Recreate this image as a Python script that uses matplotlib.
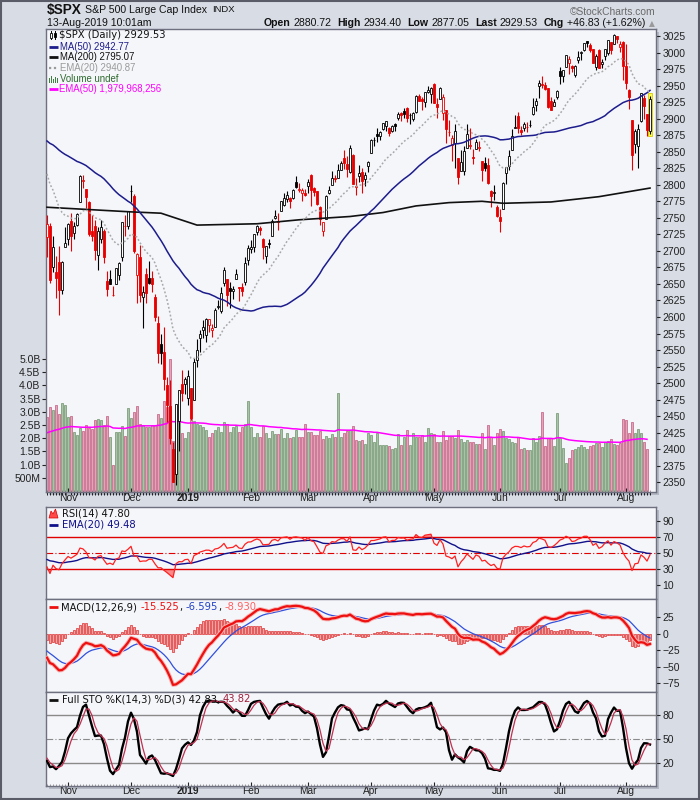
import numpy as np
import pandas as pd
import matplotlib
matplotlib.use("Agg")
import matplotlib.pyplot as plt
from matplotlib.lines import Line2D
from matplotlib.patches import Rectangle, Polygon

plt.rcParams['font.family'] = ['Liberation Sans', 'DejaVu Sans']

# ---------------- warm-up history (Jul 2 - Oct 22, 2018) ----------------
warm_close = [2726.71, 2713.22, 2736.61, 2759.82, 2784.17, 2793.84, 2774.02, 2798.29, 2801.31, 2798.43,
              2809.55, 2815.62, 2804.49, 2801.83, 2806.98, 2820.40, 2846.07, 2837.44, 2818.82, 2802.60,
              2816.29,
              2813.36, 2827.22, 2840.35, 2850.40, 2858.45, 2857.70, 2853.58, 2833.28, 2821.93, 2839.96,
              2818.37, 2840.69, 2850.13, 2857.05, 2862.96, 2861.82, 2856.98, 2874.69, 2896.74, 2897.52,
              2914.04, 2901.13, 2901.52,
              2896.72, 2888.60, 2878.05, 2871.68, 2877.13, 2887.89, 2888.92, 2904.18, 2904.98, 2888.80,
              2904.31, 2907.95, 2930.75, 2929.67, 2919.37, 2915.56, 2905.97, 2914.00, 2913.98,
              2924.59, 2923.43, 2925.51, 2901.61, 2885.57, 2884.43, 2880.34, 2785.68, 2728.37, 2767.13,
              2750.79, 2809.92, 2809.21, 2768.78, 2767.78, 2755.88]
warm_high = [2931.15, 2927.22, 2920.53, 2937.06, 2931.42, 2939.86, 2919.78, 2909.64, 2894.83, 2894.70,
             2874.02, 2795.14, 2775.77, 2775.99, 2813.46, 2816.94, 2806.04, 2797.77, 2778.94]
warm_low = [2903.28, 2909.27, 2907.50, 2917.91, 2919.37, 2921.36, 2883.92, 2869.29, 2862.99, 2874.27,
            2784.86, 2710.51, 2729.44, 2749.03, 2766.91, 2781.81, 2755.18, 2760.27, 2749.22]

# ---------------- displayed daily data (Oct 23, 2018 - Aug 13, 2019) ----------------
opens = [2721.03, 2737.87, 2674.88, 2667.86, 2682.65, 2640.68, 2705.60, 2717.58, 2745.45, 2726.37,
         2738.40, 2774.13, 2806.38, 2794.10, 2773.93, 2730.05, 2737.90, 2693.52, 2718.54, 2730.74,
         2654.60, 2657.74, 2633.36, 2649.97, 2663.75, 2691.45, 2736.97, 2737.76, 2790.50, 2782.43,
         2663.51, 2691.26, 2630.86, 2664.44, 2658.23, 2658.70, 2629.68, 2590.75, 2559.90, 2547.05,
         2496.77, 2465.38, 2400.56, 2363.12, 2442.50, 2498.77, 2498.94, 2476.96, 2491.92, 2474.33,
         2535.61, 2568.11, 2580.00, 2573.51, 2588.11, 2580.31, 2585.10, 2614.75, 2609.28, 2651.27,
         2657.88, 2643.48, 2638.84, 2657.44, 2644.97, 2644.89, 2653.62, 2685.49, 2702.32, 2706.49,
         2728.34, 2735.05, 2717.53, 2692.36, 2712.40, 2722.61, 2750.30, 2743.50, 2760.24, 2769.28,
         2779.05, 2780.67, 2780.67, 2804.35, 2792.36, 2787.50, 2788.11, 2798.22, 2814.37, 2794.41,
         2790.27, 2766.53, 2730.79, 2747.61, 2787.34, 2799.78, 2810.38, 2810.79, 2822.61, 2840.76,
         2831.34, 2819.72, 2844.52, 2796.01, 2812.66, 2819.72, 2809.40, 2828.27, 2848.63, 2868.24,
         2876.09, 2873.99, 2884.16, 2888.46, 2886.58, 2881.37, 2891.92, 2900.86, 2908.32, 2912.26,
         2916.04, 2904.81, 2898.78, 2909.99, 2934.00, 2928.99, 2925.81, 2940.58, 2937.14, 2952.33,
         2922.16, 2929.21, 2908.89, 2913.03, 2879.61, 2859.84, 2863.10, 2840.19, 2820.12, 2820.38,
         2855.80, 2858.60, 2841.94, 2854.02, 2856.06, 2836.70, 2832.41, 2830.03, 2790.25, 2786.94,
         2766.15, 2751.53, 2762.64, 2818.09, 2828.51, 2852.87, 2885.83, 2903.27, 2882.73, 2886.24,
         2886.82, 2889.75, 2906.71, 2920.55, 2949.60, 2952.71, 2951.42, 2945.78, 2926.07, 2919.66,
         2932.94, 2971.41, 2964.66, 2978.08, 2984.25, 2979.77, 2965.52, 2989.30, 2999.62, 3003.36,
         3017.80, 3012.13, 3005.10, 2978.87, 3004.26, 2981.93, 2994.74, 2998.77, 3016.26, 3013.25,
         3024.47, 3007.66, 3016.22, 2980.32, 2943.90, 2898.07, 2861.18, 2858.65, 2896.21, 2930.51,
         2907.07, 2880.72]
highs = [2753.59, 2742.59, 2722.70, 2692.38, 2706.85, 2685.43, 2736.69, 2741.67, 2756.55, 2744.27,
         2756.82, 2815.15, 2814.75, 2794.10, 2775.99, 2754.60, 2746.80, 2735.38, 2746.75, 2733.16,
         2669.44, 2670.73, 2647.55, 2674.35, 2682.53, 2744.00, 2753.75, 2760.88, 2800.18, 2785.93,
         2696.15, 2708.54, 2647.51, 2674.35, 2685.44, 2670.19, 2635.07, 2601.13, 2573.99, 2585.29,
         2509.63, 2504.41, 2410.34, 2467.76, 2489.10, 2520.27, 2509.24, 2519.49, 2493.14, 2538.07,
         2566.16, 2579.82, 2595.32, 2597.82, 2596.27, 2589.32, 2613.08, 2625.76, 2645.06, 2675.47,
         2657.88, 2653.19, 2647.20, 2672.38, 2644.97, 2650.93, 2690.44, 2708.95, 2716.66, 2724.99,
         2738.98, 2738.08, 2719.32, 2708.07, 2718.05, 2748.19, 2761.85, 2757.90, 2775.66, 2787.33,
         2789.88, 2781.58, 2794.20, 2813.49, 2803.12, 2795.76, 2793.73, 2808.02, 2816.88, 2796.44,
         2790.27, 2767.25, 2744.13, 2784.00, 2798.32, 2821.24, 2815.00, 2830.73, 2835.41, 2852.42,
         2843.54, 2860.31, 2846.16, 2809.79, 2829.87, 2825.56, 2819.71, 2836.03, 2869.40, 2872.90,
         2885.25, 2881.28, 2893.24, 2895.95, 2886.88, 2889.71, 2893.42, 2910.54, 2909.60, 2916.06,
         2918.00, 2908.40, 2909.51, 2936.31, 2936.83, 2933.10, 2939.88, 2949.52, 2948.22, 2954.13,
         2931.68, 2947.85, 2937.32, 2913.03, 2897.96, 2875.97, 2891.31, 2840.19, 2852.54, 2858.68,
         2892.15, 2885.48, 2853.86, 2868.88, 2865.47, 2836.70, 2841.36, 2840.51, 2792.03, 2799.00,
         2768.98, 2763.07, 2804.49, 2827.28, 2852.10, 2884.97, 2904.77, 2910.61, 2888.57, 2895.24,
         2894.45, 2897.27, 2930.79, 2931.74, 2958.06, 2964.15, 2954.92, 2946.52, 2932.59, 2929.30,
         2943.98, 2977.93, 2973.21, 2995.84, 2994.03, 2980.76, 2981.90, 3002.98, 3002.33, 3013.92,
         3017.80, 3015.02, 3005.26, 2998.28, 3006.02, 2990.71, 3005.90, 3019.59, 3016.31, 3027.98,
         3025.61, 3017.19, 3017.40, 3013.59, 2945.50, 2898.07, 2884.40, 2892.17, 2938.72, 2935.75,
         2907.58, 2934.40]
lows = [2691.43, 2651.89, 2667.84, 2628.16, 2603.54, 2635.34, 2705.60, 2708.85, 2700.44, 2717.94,
        2737.08, 2774.13, 2794.99, 2764.24, 2722.00, 2714.98, 2685.75, 2670.75, 2712.16, 2681.09,
        2631.52, 2649.82, 2631.09, 2649.97, 2655.89, 2684.38, 2722.94, 2732.76, 2773.38, 2697.18,
        2621.53, 2623.14, 2583.23, 2621.30, 2650.26, 2637.27, 2593.84, 2530.54, 2528.71, 2488.96,
        2441.18, 2408.55, 2351.10, 2346.58, 2397.94, 2472.89, 2482.82, 2467.47, 2443.96, 2474.33,
        2524.56, 2547.56, 2568.89, 2562.02, 2577.40, 2570.41, 2585.10, 2612.68, 2606.36, 2647.58,
        2617.27, 2612.86, 2627.01, 2657.33, 2624.06, 2631.05, 2648.34, 2678.65, 2696.88, 2698.75,
        2724.03, 2724.15, 2687.26, 2681.83, 2703.79, 2722.61, 2748.63, 2731.23, 2760.24, 2767.29,
        2774.06, 2764.55, 2779.11, 2794.99, 2789.47, 2775.13, 2782.51, 2787.38, 2767.66, 2782.97,
        2768.69, 2739.09, 2722.27, 2747.61, 2786.73, 2799.78, 2803.46, 2810.79, 2821.99, 2823.27,
        2812.43, 2817.38, 2800.47, 2785.02, 2803.99, 2787.72, 2798.77, 2819.23, 2848.63, 2858.75,
        2865.17, 2867.14, 2882.99, 2880.78, 2873.33, 2879.13, 2881.99, 2898.37, 2896.48, 2900.71,
        2895.45, 2891.90, 2896.35, 2908.53, 2926.05, 2912.84, 2917.56, 2939.35, 2924.11, 2923.36,
        2900.50, 2929.21, 2898.21, 2862.60, 2873.28, 2836.40, 2825.39, 2801.43, 2820.12, 2815.08,
        2855.80, 2854.23, 2831.29, 2854.02, 2851.11, 2805.49, 2820.19, 2801.58, 2766.06, 2776.74,
        2750.52, 2728.81, 2762.64, 2800.92, 2822.45, 2852.87, 2885.51, 2878.53, 2874.68, 2881.99,
        2879.62, 2887.30, 2905.44, 2911.43, 2931.50, 2946.87, 2944.05, 2916.01, 2912.99, 2918.57,
        2929.05, 2952.22, 2955.92, 2977.96, 2967.97, 2970.09, 2963.44, 2984.62, 2988.80, 3001.87,
        3008.77, 3001.15, 2984.25, 2973.09, 2975.86, 2976.65, 2988.56, 2996.82, 2997.24, 3012.59,
        3014.30, 3000.94, 2958.08, 2945.23, 2914.11, 2822.12, 2847.42, 2825.71, 2894.47, 2900.15,
        2873.14, 2877.05]
closes = [2740.69, 2656.10, 2705.57, 2658.69, 2641.25, 2682.63, 2711.74, 2740.37, 2723.06, 2738.31,
          2755.45, 2813.89, 2806.83, 2781.01, 2726.22, 2722.18, 2701.58, 2730.20, 2736.27, 2690.73,
          2641.89, 2649.93, 2632.56, 2673.45, 2682.17, 2743.79, 2737.80, 2760.17, 2790.37, 2700.06,
          2695.95, 2633.08, 2637.72, 2636.78, 2651.07, 2650.54, 2599.95, 2545.94, 2546.16, 2506.96,
          2467.42, 2416.62, 2351.10, 2467.70, 2488.83, 2485.74, 2506.85, 2510.03, 2447.89, 2531.94,
          2549.69, 2574.41, 2584.96, 2596.64, 2596.26, 2582.61, 2610.30, 2616.10, 2635.96, 2670.71,
          2632.90, 2638.70, 2642.33, 2664.76, 2643.85, 2640.00, 2681.05, 2704.10, 2706.53, 2724.87,
          2737.70, 2731.61, 2706.05, 2707.88, 2709.80, 2744.73, 2753.03, 2745.73, 2775.60, 2779.76,
          2784.70, 2774.88, 2792.67, 2796.11, 2793.90, 2792.38, 2784.49, 2803.69, 2792.81, 2789.65,
          2771.45, 2748.93, 2743.07, 2783.30, 2791.52, 2810.92, 2808.48, 2822.48, 2832.94, 2832.57,
          2824.23, 2854.88, 2800.71, 2798.36, 2818.46, 2805.37, 2815.44, 2834.40, 2867.19, 2867.24,
          2873.40, 2879.39, 2892.74, 2895.77, 2878.20, 2888.21, 2888.32, 2907.41, 2905.58, 2907.06,
          2900.45, 2905.03, 2907.97, 2933.68, 2927.25, 2926.17, 2939.88, 2943.03, 2945.83, 2923.73,
          2917.52, 2945.64, 2932.47, 2884.05, 2879.42, 2870.72, 2881.40, 2811.87, 2834.41, 2850.96,
          2876.32, 2859.53, 2840.23, 2864.36, 2856.27, 2822.24, 2826.06, 2802.39, 2783.02, 2788.86,
          2752.06, 2744.45, 2803.27, 2826.15, 2843.49, 2873.34, 2886.73, 2885.72, 2879.84, 2891.64,
          2886.98, 2889.67, 2917.75, 2926.46, 2954.18, 2950.46, 2945.35, 2917.38, 2913.78, 2924.92,
          2941.76, 2964.33, 2973.01, 2995.82, 2990.41, 2975.95, 2979.63, 2993.07, 2999.91, 3013.77,
          3014.30, 3004.04, 2984.42, 2995.11, 2976.61, 2985.03, 3005.47, 3019.56, 3003.67, 3025.86,
          3020.97, 3013.18, 2980.38, 2953.56, 2932.05, 2844.74, 2881.77, 2883.98, 2938.09, 2918.65,
          2882.70, 2929.53]
volume_b = [2.82, 3.18, 3.06, 3.24, 2.90, 3.32, 3.24, 2.80, 2.84, 2.22,
            2.12, 2.39, 2.26, 2.49, 2.39, 2.34, 2.68, 2.73, 2.68, 2.50,
            2.84, 2.03, 0.97, 2.22, 2.22, 2.46, 2.08, 3.13, 2.77, 2.99,
            3.21, 2.53, 2.49, 2.44, 2.44, 2.49, 2.49, 2.90, 2.75, 3.41,
            3.18, 5.00, 1.90, 2.60, 2.70, 2.20, 2.00, 2.22, 2.75, 2.64,
            2.53, 2.49, 2.44, 2.30, 2.03, 2.18, 2.30, 2.42, 2.22, 2.60,
            2.55, 2.22, 2.42, 2.46, 2.22, 2.42, 2.53, 3.41, 2.42, 2.05,
            2.18, 2.05, 2.45, 2.18, 2.00, 2.26, 2.16, 2.15, 2.35, 2.00,
            2.18, 2.00, 2.06, 2.31, 2.03, 2.03, 2.53, 2.22, 2.22, 2.12,
            2.12, 2.26, 1.97, 2.07, 2.00, 2.15, 2.05, 3.71, 2.05, 2.18,
            2.27, 2.30, 2.45, 1.93, 1.89, 1.93, 1.78, 2.18, 2.12, 1.86,
            2.18, 1.74, 1.74, 1.74, 1.69, 1.58, 1.63, 2.15, 1.73, 2.05,
            2.30, 1.74, 2.18, 2.05, 2.05, 2.12, 1.84, 2.37, 2.18, 2.15,
            1.84, 1.84, 2.26, 1.92, 2.10, 2.10, 2.00, 2.30, 1.96, 1.84,
            1.92, 1.87, 1.87, 1.77, 1.77, 2.18, 1.58, 2.49, 2.06, 1.73,
            2.18, 2.34, 2.26, 2.00, 1.96, 1.84, 1.81, 2.03, 1.58, 1.62,
            1.54, 1.54, 2.00, 1.84, 2.07, 2.98, 1.69, 2.00, 2.00, 1.69,
            2.94, 2.00, 1.62, 1.05, 1.24, 1.54, 1.58, 1.65, 1.73, 1.65,
            1.58, 1.69, 1.73, 1.81, 1.81, 1.65, 1.84, 1.88, 1.96, 1.77,
            1.73, 1.81, 2.73, 2.68, 2.18, 2.60, 2.18, 2.34, 2.18, 1.84,
            1.58, float('nan')]
vol_ema_seed = 2.18          # EMA(50) of volume just before the first bar
ma200_idx = [0, 28, 38, 50, 70, 84, 101, 112, 123, 134, 145, 152, 168, 184, 201]
ma200_val = [2766, 2759, 2757, 2739, 2741, 2747, 2752, 2758, 2768, 2773, 2775, 2772, 2774, 2782, 2795]

holidays = ["2018-11-22", "2018-12-05", "2018-12-25", "2019-01-01", "2019-01-21",
            "2019-02-18", "2019-04-19", "2019-05-27", "2019-07-04"]

price_ticks = list(range(2350, 3026, 25))
vol_ticks = [0.5, 1.0, 1.5, 2.0, 2.5, 3.0, 3.5, 4.0, 4.5, 5.0]
vol_tick_labels = ["500M", "1.0B", "1.5B", "2.0B", "2.5B", "3.0B", "3.5B", "4.0B", "4.5B", "5.0B"]
rsi_ticks = [10, 30, 50, 70, 90]
macd_ticks = [25, 0, -25, -50, -75]
sto_ticks = [20, 50, 80]

# ---------------- indicators ----------------
n = len(closes)
nw = len(warm_close)
x = np.arange(n)
O = np.array(opens); Hh = np.array(highs); Ll = np.array(lows); C = np.array(closes)
allc = np.array(warm_close + closes)


def ema(arr, period):
    a = 2.0 / (period + 1)
    out = np.full(len(arr), np.nan)
    prev = np.nan
    for i, v in enumerate(arr):
        if np.isnan(v):
            out[i] = prev
            continue
        prev = v if np.isnan(prev) else prev + a * (v - prev)
        out[i] = prev
    return out


ma50 = pd.Series(allc).rolling(50).mean().values[nw:]
ema20 = ema(allc, 20)[nw:]
macd_full = ema(allc, 12) - ema(allc, 26)
sig_full = ema(macd_full, 9)
macd = macd_full[nw:]
sig = sig_full[nw:]
hist = macd - sig

d = np.diff(allc)
gain = np.clip(d, 0, None)
loss = np.clip(-d, 0, None)
rsi_full = np.full(len(allc), np.nan)
ag = gain[:14].mean(); al = loss[:14].mean()
rsi_full[14] = 100 - 100 / (1 + ag / al)
for k in range(14, len(d)):
    ag = (ag * 13 + gain[k]) / 14
    al = (al * 13 + loss[k]) / 14
    rsi_full[k + 1] = 100 - 100 / (1 + ag / al)
rsi_ema_full = np.full(len(allc), np.nan)
rsi_ema_full[14:] = ema(rsi_full[14:], 20)
rsi = rsi_full[nw:]
rsi_ema = rsi_ema_full[nw:]

Hs = pd.Series(warm_high + highs)
Ls = pd.Series(warm_low + lows)
Cs = pd.Series(warm_close[-len(warm_high):] + closes)
hh = Hs.rolling(14).max(); ll = Ls.rolling(14).min()
raw = 100 * (Cs - ll) / (hh - ll)
stok = raw.rolling(3).mean()
stod = stok.rolling(3).mean()
stok = stok.values[len(warm_high):]
stod = stod.values[len(warm_high):]

vol = np.array(volume_b, dtype=float)
vema = []
prev = vol_ema_seed
for v in vol:
    if np.isnan(v):
        vema.append(np.nan)
        continue
    prev = prev + 2.0 / 51 * (v - prev)
    vema.append(prev)
vema = np.array(vema)

dates = pd.bdate_range("2018-10-23", "2019-08-13")
dates = dates[~dates.isin(pd.to_datetime(holidays))][:n]
month_idx = [i for i in range(1, n) if dates[i].month != dates[i - 1].month]
month_lab = [("%d" % dates[i].year) if dates[i].month == 1 else dates[i].strftime("%b") for i in month_idx]

# ---------------- figure ----------------
W, H = 700, 800
BG = '#d8dce5'
PANEL = '#f5f6fa'
BORDER = '#6e7080'
RED = '#e80000'

fig = plt.figure(figsize=(7, 8), dpi=100, facecolor=BG)


def fx(px):
    return px / W


def fy(py):
    return 1 - py / H


def rect(x0, y0, x1, y1):
    return [x0 / W, 1 - y1 / H, (x1 - x0) / W, (y1 - y0) / H]


# panel shadows + frame
for (a, b, c, dd_) in [(46, 29, 656, 492), (46, 507, 656, 786)]:
    fig.add_artist(Rectangle((fx(a + 3), fy(dd_ + 3)), (c - a) / W, (dd_ - b) / H,
                             transform=fig.transFigure, facecolor='#b4b8c4', edgecolor='none', zorder=-5))
fig.add_artist(Rectangle((0.001, 0.001), 0.998, 0.998, transform=fig.transFigure,
                         facecolor='none', edgecolor='#5a5c68', lw=1.5, zorder=10))

XL = (-0.33, 203.0)
TICKFS = 7.5

axv = fig.add_axes(rect(46, 29, 656, 492), facecolor=PANEL)
ax = fig.add_axes(rect(46, 29, 656, 492), facecolor='none', sharex=axv)
ax_rsi = fig.add_axes(rect(46, 507, 656, 599), facecolor=PANEL, sharex=axv)
ax_macd = fig.add_axes(rect(46, 599, 656, 692), facecolor=PANEL, sharex=axv)
ax_sto = fig.add_axes(rect(46, 692, 656, 786), facecolor=PANEL, sharex=axv)

for a in [axv, ax, ax_rsi, ax_macd, ax_sto]:
    a.set_xlim(*XL)
    for s in a.spines.values():
        s.set_color(BORDER)
        s.set_linewidth(1.0)
for s in axv.spines.values():
    s.set_visible(False)

# ---- volume ----
valid = ~np.isnan(vol)
prevc = np.concatenate([[warm_close[-1]], C[:-1]])
up = C >= prevc
vcol = np.where(up, '#a9c3a7', '#e2a4b6')
vedge = np.where(up, '#6f926c', '#c25a7e')
axv.bar(x[valid], vol[valid], width=0.82, color=vcol[valid], edgecolor=vedge[valid], lw=0.5, zorder=1)
axv.plot(x, vema, color='#ff00ff', lw=1.1, zorder=2)
axv.set_ylim(-0.04, 17.5)
axv.set_yticks(vol_ticks)
axv.set_yticklabels(vol_tick_labels)
axv.yaxis.tick_left()
axv.tick_params(axis='y', direction='out', length=3, width=0.8, labelsize=TICKFS, pad=1, colors='#222222')
axv.tick_params(axis='x', bottom=False, labelbottom=False)

# ---- price ----
ax.plot(ma200_idx, ma200_val, color='#111111', lw=1.2, zorder=5)
ax.plot(x, ma50, color='#1c1c8c', lw=1.1, zorder=5)
ax.plot(x, ema20, color='#a8a8a8', lw=1.1, ls=(0, (1.2, 1.4)), zorder=5)

ccol = np.where(up, '#000000', RED)
hollow = C >= O
ax.add_patch(Rectangle((n - 1 - 0.8, Ll[-1] - 4), 1.6, Hh[-1] - Ll[-1] + 8,
                       facecolor='#fbfb50', edgecolor='#d8c800', lw=0.6, zorder=2))
ax.vlines(x, Ll, Hh, colors=ccol, lw=0.8, zorder=3)
bot = np.minimum(O, C)
hgt = np.maximum(np.abs(C - O), 0.8)
face = [('white' if hollow[i] else ccol[i]) for i in range(n)]
ax.bar(x, hgt, bottom=bot, width=0.62, color=face, edgecolor=ccol, lw=0.6, zorder=4)

ax.set_ylim(2335.3, 3035.6)
ax.set_yticks(price_ticks)
ax.yaxis.tick_right()
ax.tick_params(axis='y', direction='out', length=3, width=0.8, labelsize=TICKFS, pad=1.5, colors='#222222')

# x axis for main + sto
for a in [ax, ax_sto]:
    a.set_xticks(month_idx)
    a.set_xticklabels(month_lab)
    a.set_xticks(np.arange(n), minor=True)
    a.tick_params(axis='x', which='major', direction='in', length=3, width=0.8,
                  labelsize=TICKFS, pad=0.8, colors='#222222', labelbottom=True)
    a.tick_params(axis='x', which='minor', direction='in', length=1.5, width=0.5, colors='#777777')
    for t in a.get_xticklabels():
        if t.get_text().isdigit():
            t.set_fontweight('bold')
for a in [ax_rsi, ax_macd]:
    a.tick_params(axis='x', which='both', bottom=False, labelbottom=False)

# ---- RSI ----
ax_rsi.fill_between(x, rsi, 30, where=rsi < 30, interpolate=True, color='#ff8a8a', lw=0, zorder=1)
ax_rsi.fill_between(x, rsi, 70, where=rsi > 70, interpolate=True, color='#ff8a8a', lw=0, zorder=1)
ax_rsi.axhline(70, color='#e00000', lw=1.0, zorder=2)
ax_rsi.axhline(30, color='#e00000', lw=1.0, zorder=2)
ax_rsi.axhline(50, color='#e00000', lw=0.8, ls=(0, (6, 2, 1, 2)), zorder=2)
ax_rsi.plot(x, rsi_ema, color='#10108a', lw=1.0, zorder=3)
ax_rsi.plot(x, rsi, color='#ff2020', lw=0.9, zorder=4)
ax_rsi.set_ylim(-7.5, 107.5)
ax_rsi.set_yticks(rsi_ticks)
ax_rsi.yaxis.tick_right()
ax_rsi.tick_params(axis='y', direction='out', length=3, width=0.8, labelsize=TICKFS, pad=1.5, colors='#222222')

# ---- MACD ----
ax_macd.bar(x, hist, width=0.85, color='#f4a2a2', edgecolor='#dd3030', lw=0.5, zorder=1)
ax_macd.plot(x, sig, color='#3050dd', lw=0.9, zorder=3)
ax_macd.plot(x, macd, color='#f6b4b4', lw=3.0, zorder=3.5, solid_capstyle='round')
ax_macd.plot(x, macd, color='#ee1010', lw=1.6, zorder=4)
ax_macd.set_ylim(-88.3, 52.6)
ax_macd.set_yticks(macd_ticks)
ax_macd.yaxis.tick_right()
ax_macd.tick_params(axis='y', direction='out', length=3, width=0.8, labelsize=TICKFS, pad=1.5, colors='#222222')

# ---- STO ----
ax_sto.axhline(80, color='#8a8a8a', lw=1.0, zorder=1)
ax_sto.axhline(20, color='#8a8a8a', lw=1.0, zorder=1)
ax_sto.axhline(50, color='#8a8a8a', lw=0.8, ls=(0, (6, 2, 1, 2)), zorder=1)
ax_sto.plot(x, stok, color='#000000', lw=1.7, zorder=3)
ax_sto.plot(x, stod, color='#c03050', lw=0.9, zorder=4)
ax_sto.set_ylim(-9.5, 109)
ax_sto.set_yticks(sto_ticks)
ax_sto.yaxis.tick_right()
ax_sto.tick_params(axis='y', direction='out', length=3, width=0.8, labelsize=TICKFS, pad=1.5, colors='#222222')
ax_sto.tick_params(axis='x', which='major', pad=0.3, labelsize=7.3)

# ---------------- texts ----------------
fig.canvas.draw()
renderer = fig.canvas.get_renderer()


def parts_text(xp, yp, parts, ha='left', size=7.6, family='Liberation Sans'):
    arts, widths = [], []
    for s, col, w, gap in parts:
        t = fig.text(0, fy(yp), s, color=col, fontweight=w, fontsize=size, family=family,
                     va='center', ha='left', zorder=20)
        widths.append(t.get_window_extent(renderer).width + gap)
        arts.append(t)
    total = sum(widths)
    x0 = xp - total if ha == 'right' else xp
    for t, wd in zip(arts, widths):
        t.set_x(fx(x0))
        x0 += wd


def fline(x0, x1, yp, color, lw=2.0, ls='-'):
    fig.add_artist(Line2D([fx(x0), fx(x1)], [fy(yp), fy(yp)], color=color, lw=lw, ls=ls,
                          transform=fig.transFigure, zorder=20, solid_capstyle='butt'))


# header
fig.text(fx(47), fy(10), "$SPX", fontsize=9.8, fontweight='bold', va='center', ha='left', color='#111111')
fig.text(fx(85), fy(10), "S&P 500 Large Cap Index", fontsize=7.6, va='center', ha='left', color='#111111')
fig.text(fx(212), fy(10), "INDX", fontsize=6.8, va='center', ha='left', color='#111111')
fig.text(fx(656), fy(12), "\u00a9StockCharts.com", fontsize=7.4, va='center', ha='right', color='#6a6a6a')
fig.text(fx(47), fy(23), "13-Aug-2019 10:01am", fontsize=7.6, va='center', ha='left', color='#111111')
sp = 2.9
parts_text(645, 23, [("Open", '#111111', 'bold', sp), ("2880.72", '#111111', 'normal', 2 * sp),
                     ("High", '#111111', 'bold', sp), ("2934.40", '#111111', 'normal', 2 * sp),
                     ("Low", '#111111', 'bold', sp), ("2877.05", '#111111', 'normal', 2 * sp),
                     ("Last", '#111111', 'bold', sp), ("2929.53", '#111111', 'normal', 2 * sp),
                     ("Chg", '#111111', 'bold', sp), ("+46.83 (+1.62%)", '#111111', 'normal', 0)],
           ha='right', size=7.6)
fig.text(fx(652), fy(24), "\u25b2", fontsize=5.5, family='DejaVu Sans', va='center', ha='center', color='#9a9a9a')

# main legend
fig.add_artist(Line2D([fx(50.5), fx(50.5)], [fy(31), fy(39)], color='black', lw=0.7, transform=fig.transFigure, zorder=20))
fig.add_artist(Rectangle((fx(49.5), fy(37.5)), 2 / W, 5 / H, transform=fig.transFigure, facecolor='white', edgecolor='black', lw=0.6, zorder=21))
fig.add_artist(Line2D([fx(54.5), fx(54.5)], [fy(31), fy(39)], color='black', lw=0.7, transform=fig.transFigure, zorder=20))
fig.add_artist(Rectangle((fx(53.5), fy(37)), 2 / W, 4 / H, transform=fig.transFigure, facecolor='black', edgecolor='black', lw=0.6, zorder=21))
fig.text(fx(59), fy(35), "$SPX (Daily) 2929.53", fontsize=7.2, family='DejaVu Sans', va='center', ha='left', color='#111111', zorder=20)
fline(49, 58, 46.5, '#1c1c8c')
fig.text(fx(60), fy(46.5), "MA(50) 2942.77", fontsize=6.9, va='center', ha='left', color='#1c1c8c', zorder=20)
fline(49, 58, 57, '#111111')
fig.text(fx(60), fy(57), "MA(200) 2795.07", fontsize=6.9, va='center', ha='left', color='#111111', zorder=20)
fline(49, 58, 68, '#9a9a9a', lw=1.6, ls=(0, (1, 1.2)))
fig.text(fx(60), fy(68), "EMA(20) 2940.87", fontsize=6.9, va='center', ha='left', color='#9a9a9a', zorder=20)
for bx, bh in [(49.5, 5), (51.5, 7), (53.5, 4), (55.5, 6), (57.5, 5)]:
    fig.add_artist(Rectangle((fx(bx - 0.7), fy(83)), 1.4 / W, bh / H, transform=fig.transFigure,
                             facecolor='#3f7f3f', edgecolor='none', zorder=20))
fig.text(fx(60), fy(78.7), "Volume undef", fontsize=6.9, va='center', ha='left', color='#2f6a2f', zorder=20)
fline(49, 58, 89, '#ff00ff')
fig.text(fx(59), fy(89), "EMA(50) 1,979,968,256", fontsize=6.9, va='center', ha='left', color='#ff00ff', zorder=20)

# RSI legend
fig.add_artist(Polygon([(fx(49), fy(518)), (fx(51), fy(511)), (fx(53), fy(514)), (fx(55.5), fy(509)),
                        (fx(58), fy(518))], closed=True, transform=fig.transFigure,
                       facecolor='#ff4a4a', edgecolor='#dd0000', lw=0.5, zorder=20))
fig.text(fx(61.5), fy(513.5), "RSI(14) 47.80", fontsize=7.2, family='DejaVu Sans', va='center', ha='left', color='#111111', zorder=20)
fline(49, 58, 524.5, '#10108a')
fig.text(fx(61.5), fy(524.5), "EMA(20) 49.48", fontsize=7.2, family='DejaVu Sans', va='center', ha='left', color='#10108a', zorder=20)

# MACD legend
fline(49, 58, 607, '#ee1010')
parts_text(61.5, 607, [("MACD(12,26,9)", '#111111', 'normal', 3.2), ("-15.525", '#ee1010', 'normal', 0),
                       (",", '#111111', 'normal', 3.2), ("-6.595", '#2040c8', 'normal', 0),
                       (",", '#111111', 'normal', 3.2), ("-8.930", '#ff6060', 'normal', 0)],
           size=7.2, family='DejaVu Sans')

# STO legend
fline(49, 58, 699.5, '#111111')
parts_text(61.5, 699.5, [("Full STO %K(14,3) %D(3) 42.83,", '#111111', 'normal', 3.2),
                         ("43.82", '#a0203c', 'normal', 0)], size=7.2, family='DejaVu Sans')

fig.savefig("out.png", dpi=100, facecolor=BG)
